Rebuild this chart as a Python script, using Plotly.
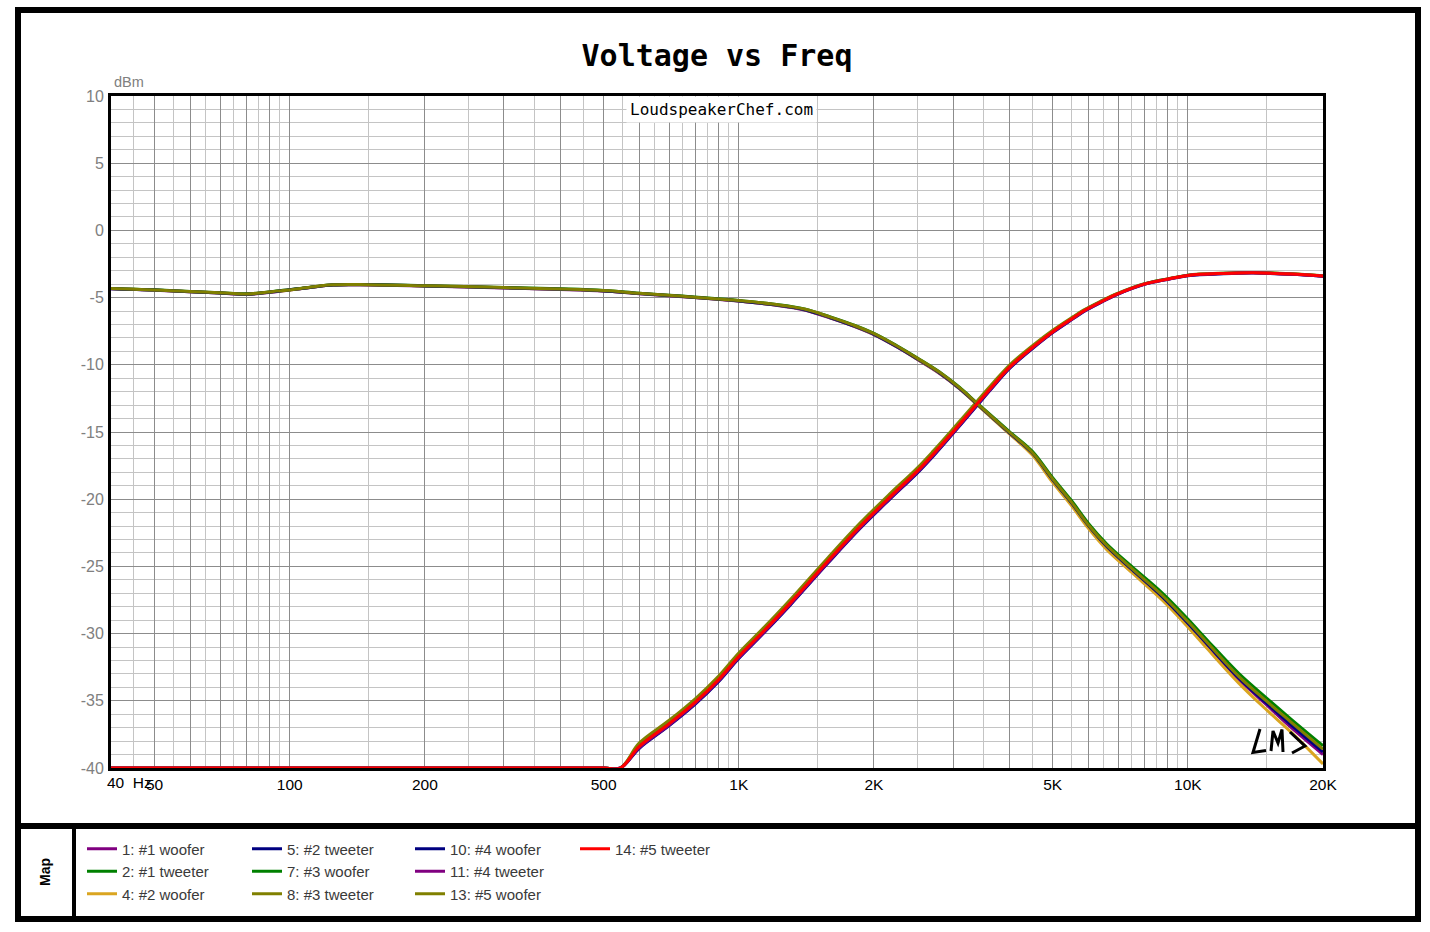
import plotly.graph_objects as go

# ---------------- data ----------------
woofer_freq = [40, 50, 60, 70, 80, 95, 110, 125, 150, 200, 300, 400, 500, 600, 750, 900,
               1000, 1200, 1400, 1600, 1800, 2000, 2250, 2500, 2800, 3100, 3400, 3700, 4000,
               4500, 5000, 5500, 6000, 6600, 7500, 8800, 10000, 11000, 13000, 15000, 17000, 20000]

w1_purple = [-4.35, -4.45, -4.57, -4.66, -4.76, -4.52, -4.27, -4.07, -4.06, -4.14, -4.28, -4.39, -4.51, -4.71, -4.93, -5.13,
             -5.26, -5.55, -5.92, -6.52, -7.12, -7.76, -8.68, -9.6, -10.64, -11.77, -12.97, -14.07, -15.08,
             -16.6, -18.6, -20.3, -22.02, -23.58, -25.3, -27.37, -29.3, -30.82, -33.42, -35.33, -37.0, -39.0]
w4_gold = [-4.33, -4.44, -4.56, -4.65, -4.74, -4.51, -4.26, -4.06, -4.05, -4.13, -4.27, -4.38, -4.5, -4.7, -4.92, -5.12,
           -5.25, -5.54, -5.9, -6.5, -7.1, -7.74, -8.66, -9.59, -10.63, -11.77, -12.98, -14.1, -15.12,
           -16.7, -18.75, -20.45, -22.15, -23.75, -25.45, -27.55, -29.5, -31.05, -33.7, -35.7, -37.35, -39.7]
w7_green = [-4.32, -4.42, -4.54, -4.63, -4.72, -4.49, -4.24, -4.04, -4.03, -4.11, -4.24, -4.35, -4.47, -4.67, -4.89, -5.09,
            -5.21, -5.49, -5.84, -6.43, -7.03, -7.66, -8.58, -9.49, -10.53, -11.67, -12.87, -13.95, -14.95,
            -16.42, -18.4, -20.08, -21.78, -23.33, -25.0, -27.02, -28.92, -30.42, -32.98, -34.82, -36.38, -38.35]
w10_navy = [-4.34, -4.44, -4.56, -4.65, -4.75, -4.51, -4.26, -4.06, -4.05, -4.13, -4.27, -4.38, -4.5, -4.7, -4.92, -5.12,
            -5.25, -5.54, -5.9, -6.5, -7.1, -7.73, -8.65, -9.57, -10.61, -11.75, -12.95, -14.05, -15.05,
            -16.55, -18.55, -20.25, -21.95, -23.52, -25.22, -27.3, -29.22, -30.72, -33.32, -35.2, -36.8, -38.8]
w13_olive = [-4.33, -4.43, -4.55, -4.64, -4.73, -4.5, -4.25, -4.05, -4.04, -4.12, -4.25, -4.36, -4.48, -4.68, -4.9, -5.1,
             -5.22, -5.5, -5.85, -6.45, -7.05, -7.68, -8.6, -9.52, -10.56, -11.7, -12.9, -14.0, -15.0,
             -16.5, -18.5, -20.2, -21.9, -23.45, -25.15, -27.2, -29.1, -30.6, -33.2, -35.05, -36.6, -38.6]

tweeter_freq = [40, 200, 500, 545, 600, 700, 800, 900, 1000, 1130, 1300, 1580, 1860, 2170, 2490, 2710,
                3000, 3390, 3690, 4020, 4530, 5020, 5560, 5860, 6380, 6950, 8000, 9100, 10000, 12000,
                14000, 17000, 20000]

t2_green = [-40, -40, -40, -40, -38.3, -36.6, -35.0, -33.35, -31.6, -29.8, -27.65, -24.5, -21.95, -19.75, -17.85, -16.55,
            -14.88, -12.83, -11.42, -10.07, -8.59, -7.45, -6.46, -5.97, -5.32, -4.73, -3.98, -3.59, -3.34, -3.19,
            -3.14, -3.24, -3.39]
t5_navy = [-40, -40, -40, -40, -38.55, -36.85, -35.25, -33.6, -31.85, -30.05, -27.9, -24.75, -22.2, -20.0, -18.1, -16.8,
           -15.12, -13.05, -11.62, -10.24, -8.74, -7.57, -6.56, -6.05, -5.39, -4.78, -4.02, -3.62, -3.37, -3.22,
           -3.17, -3.27, -3.42]
t8_olive = [-40, -40, -40, -40, -38.15, -36.45, -34.85, -33.2, -31.45, -29.65, -27.5, -24.35, -21.8, -19.6, -17.72, -16.42,
            -14.76, -12.72, -11.32, -9.98, -8.52, -7.39, -6.41, -5.93, -5.29, -4.71, -3.97, -3.58, -3.33, -3.18,
            -3.13, -3.23, -3.38]
t11_purple = [-40, -40, -40, -40, -38.5, -36.8, -35.2, -33.55, -31.8, -30.0, -27.85, -24.7, -22.15, -19.95, -18.05, -16.75,
              -15.07, -13.0, -11.57, -10.2, -8.7, -7.54, -6.54, -6.03, -5.37, -4.77, -4.01, -3.61, -3.36, -3.21,
              -3.16, -3.26, -3.41]
t14_red = [-40, -40, -40, -40, -38.4, -36.7, -35.1, -33.45, -31.7, -29.9, -27.75, -24.6, -22.05, -19.85, -17.95, -16.65,
           -14.98, -12.92, -11.5, -10.14, -8.65, -7.5, -6.5, -6.0, -5.35, -4.75, -4.0, -3.6, -3.35, -3.2,
           -3.15, -3.25, -3.4]

series_names = ["1: #1 woofer", "2: #1 tweeter", "4: #2 woofer", "5: #2 tweeter", "7: #3 woofer",
                "8: #3 tweeter", "10: #4 woofer", "11: #4 tweeter", "13: #5 woofer", "14: #5 tweeter"]
series_colors = ["#800080", "#008000", "#DAA520", "#000080", "#008000",
                 "#808000", "#000080", "#800080", "#808000", "#FF0000"]
series_x = [woofer_freq, tweeter_freq, woofer_freq, tweeter_freq, woofer_freq,
            tweeter_freq, woofer_freq, tweeter_freq, woofer_freq, tweeter_freq]
series_y = [w1_purple, t2_green, w4_gold, t5_navy, w7_green,
            t8_olive, w10_navy, t11_purple, w13_olive, t14_red]
series_legend = ["legend", "legend", "legend", "legend2", "legend2",
                 "legend2", "legend3", "legend3", "legend3", "legend4"]

x_major = [40, 50, 60, 70, 80, 90, 100, 200, 300, 400, 500, 600, 700, 800, 900,
           1000, 2000, 3000, 4000, 5000, 6000, 7000, 8000, 9000, 10000, 20000]
x_labels = {50: "50", 100: "100", 200: "200", 500: "500", 1000: "1K", 2000: "2K",
            5000: "5K", 10000: "10K", 20000: "20K"}
x_minor = [45, 55, 65, 75, 85, 95, 150, 250, 350, 450, 550, 650, 750, 850, 950,
           1500, 2500, 3500, 4500, 5500, 6500, 7500, 8500, 9500, 15000]
y_ticks = [10, 5, 0, -5, -10, -15, -20, -25, -30, -35, -40]

# ---------------- figure ----------------
W, H = 1430, 932
L, R, T, B = 111, 1323, 96, 768


def px(xp):
    return (xp - L) / (R - L)


def py(yp):
    return (B - yp) / (B - T)


fig = go.Figure()
for name, col, xs, ys, lg in zip(series_names, series_colors, series_x, series_y, series_legend):
    fig.add_trace(go.Scatter(x=xs, y=ys, mode="lines", name=name, legend=lg,
                             line=dict(color=col, width=3, shape="spline", smoothing=1.0)))

font_arial = "Liberation Sans, Arial, sans-serif"
legend_common = dict(orientation="v", xanchor="left", yanchor="top", bgcolor="rgba(0,0,0,0)",
                     font=dict(family=font_arial, size=15, color="#3a3a3a"), itemwidth=30,
                     tracegroupgap=0)
leg_y = py(832.5)

fig.update_layout(
    width=W, height=H,
    margin=dict(l=L, r=W - R, t=T, b=H - B, pad=0),
    paper_bgcolor="white", plot_bgcolor="white",
    title=dict(text="<b>Voltage vs Freq</b>", x=717 / W, xanchor="center", y=1 - 55 / H,
               yanchor="middle", font=dict(family="DejaVu Sans Mono", size=30, color="black")),
    legend=dict(x=px(82), y=leg_y, **legend_common),
    legend2=dict(x=px(247), y=leg_y, **legend_common),
    legend3=dict(x=px(410), y=leg_y, **legend_common),
    legend4=dict(x=px(575), y=leg_y, **legend_common),
    showlegend=True,
)

fig.update_xaxes(type="log", range=[1.60206, 4.30103], tickmode="array",
                 tickvals=x_major, ticktext=[x_labels.get(v, "") for v in x_major],
                 showgrid=True, gridcolor="#8c8c8c", gridwidth=1,
                 minor=dict(tickmode="array", tickvals=x_minor, showgrid=True,
                            gridcolor="#c4c4c4", gridwidth=1, ticks=""),
                 ticks="", showline=True, linecolor="black", linewidth=3, mirror=True,
                 tickfont=dict(family=font_arial, size=15.5, color="black"),
                 zeroline=False)
fig.update_yaxes(range=[-40, 10], tickmode="array", tickvals=y_ticks,
                 ticktext=[str(v) for v in y_ticks],
                 showgrid=True, gridcolor="#8c8c8c", gridwidth=1,
                 minor=dict(dtick=1, showgrid=True, gridcolor="#c4c4c4", gridwidth=1, ticks=""),
                 ticks="", showline=True, linecolor="black", linewidth=3, mirror=True,
                 tickfont=dict(family=font_arial, size=16, color="#808080"),
                 ticklabelstandoff=1, zeroline=False)

# frames
shapes = [
    dict(type="rect", xref="paper", yref="paper", x0=px(18), x1=px(1418), y0=py(919), y1=py(10),
         line=dict(color="black", width=6), fillcolor="rgba(0,0,0,0)", layer="above"),
    dict(type="line", xref="paper", yref="paper", x0=px(18), x1=px(1418), y0=py(826), y1=py(826),
         line=dict(color="black", width=6), layer="above"),
    dict(type="line", xref="paper", yref="paper", x0=px(74), x1=px(74), y0=py(826), y1=py(919),
         line=dict(color="black", width=4), layer="above"),
]
# LMS logo (hand-drawn mark)
logo = [[(1260, 729), (1253, 752.5), (1266, 750.5)],
        [(1271, 751), (1273, 731), (1278, 743), (1282, 729.5), (1283, 752)],
        [(1290, 732), (1305, 746), (1292, 753)]]
for stroke in logo:
    path = "M " + " L ".join(f"{px(a):.5f},{py(b):.5f}" for a, b in stroke)
    shapes.append(dict(type="path", xref="paper", yref="paper", path=path,
                       line=dict(color="black", width=3), layer="above"))
fig.update_layout(shapes=shapes)

annotations = [
    dict(text="dBm", xref="paper", yref="paper", x=px(112), y=py(82), xanchor="left", yanchor="middle",
         showarrow=False, font=dict(family=font_arial, size=14.5, color="#808080")),
    dict(text="LoudspeakerChef.com", xref="paper", yref="paper", x=px(721), y=py(109),
         xanchor="center", yanchor="middle", showarrow=False, bgcolor="white", borderpad=3,
         font=dict(family="DejaVu Sans Mono", size=16, color="black")),
    dict(text="40\u00a0\u00a0Hz", xref="paper", yref="paper", x=px(105), y=py(782),
         xanchor="left", yanchor="middle", showarrow=False,
         font=dict(family=font_arial, size=15.5, color="black")),
    dict(text="<b>Map</b>", xref="paper", yref="paper", x=px(45), y=py(872), textangle=-90,
         xanchor="center", yanchor="middle", showarrow=False,
         font=dict(family=font_arial, size=14, color="black")),
]
fig.update_layout(annotations=annotations)

fig.write_html("out.html")
